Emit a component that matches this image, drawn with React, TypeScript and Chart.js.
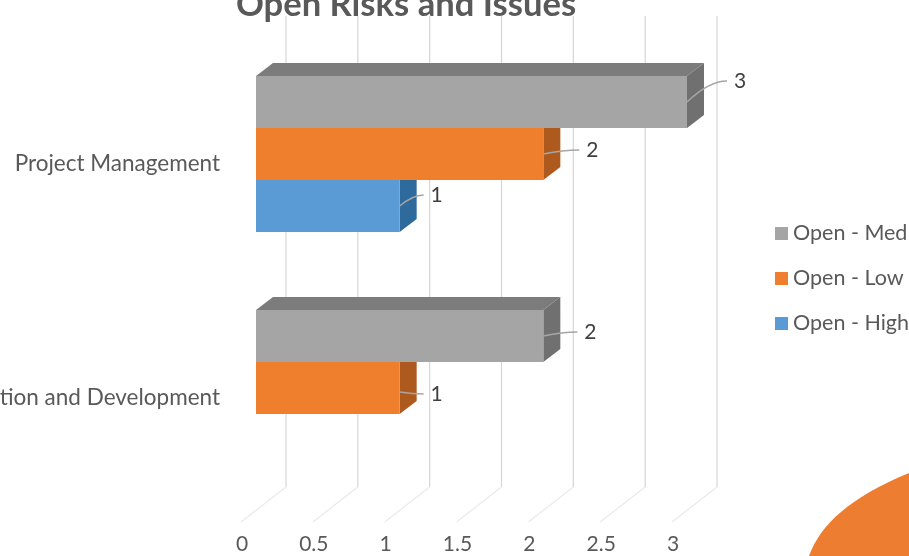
import React, { useEffect, useRef } from "react";
import { Chart, registerables } from "chart.js";

Chart.register(...registerables);

const categories = ["Project Management", "Implementation and Development"];
const openMed = [3, 2];
const openLow = [2, 1];
const openHigh = [1, null];
const seriesNames = ["Open - Med", "Open - Low", "Open - High"];
const titleText = "Open Risks and Issues";
const xMax = 3;
const xStep = 0.5;

const FONT = "Lato, Carlito, Calibri, sans-serif";
const FRONT = ["#A5A5A5", "#EF7F2C", "#5B9BD5"];
const SIDE = ["#707070", "#AE5A1E", "#2F6A9C"];
const TOP = ["#7C7C7C", "#B5601F", "#3A76AB"];
const DEPTH_X = 17;
const DEPTH_Y = 13;
// hand-placed data label offsets from the bar's front-right end: [dx, dy] by series then category
const LABEL_OFFSET = [
  [[53, -21], [47, -4]],
  [[49, -4], [37, 6]],
  [[37, -11], [0, 0]],
];

const depthPlugin = {
  id: "depth",
  beforeDatasetsDraw(chart: any) {
    const { ctx, scales } = chart;
    const x = scales.x;
    const backTop = 16;
    const backBottom = 487;
    ctx.save();
    for (const tick of x.ticks) {
      const px = x.getPixelForValue(tick.value) + 30;
      ctx.strokeStyle = "#D6D6D6";
      ctx.lineWidth = 1.2;
      ctx.beginPath();
      ctx.moveTo(px, backTop);
      ctx.lineTo(px, backBottom);
      ctx.stroke();
      ctx.strokeStyle = "#EAEAEA";
      ctx.beginPath();
      ctx.moveTo(px, backBottom);
      ctx.lineTo(px - 45, backBottom + 35);
      ctx.stroke();
    }
    ctx.restore();
  },
  beforeDatasetDraw(chart: any, args: any) {
    const { ctx } = chart;
    const i = args.index;
    const values = chart.data.datasets[i].data;
    ctx.save();
    args.meta.data.forEach((bar: any, j: number) => {
      if (values[j] == null) return;
      const p = bar.getProps(["x", "y", "base", "height"], true);
      const top = p.y - p.height / 2;
      const bottom = p.y + p.height / 2;
      ctx.fillStyle = TOP[i];
      ctx.beginPath();
      ctx.moveTo(p.base, top);
      ctx.lineTo(p.base + DEPTH_X, top - DEPTH_Y);
      ctx.lineTo(p.x + DEPTH_X, top - DEPTH_Y);
      ctx.lineTo(p.x, top);
      ctx.closePath();
      ctx.fill();
      ctx.fillStyle = SIDE[i];
      ctx.beginPath();
      ctx.moveTo(p.x, top);
      ctx.lineTo(p.x + DEPTH_X, top - DEPTH_Y);
      ctx.lineTo(p.x + DEPTH_X, bottom - DEPTH_Y);
      ctx.lineTo(p.x, bottom);
      ctx.closePath();
      ctx.fill();
    });
    ctx.restore();
  },
  afterDatasetsDraw(chart: any) {
    const { ctx } = chart;
    ctx.save();
    chart.data.datasets.forEach((ds: any, i: number) => {
      chart.getDatasetMeta(i).data.forEach((bar: any, j: number) => {
        const v = ds.data[j];
        if (v == null) return;
        const [dx, dy] = LABEL_OFFSET[i][j];
        const lx = bar.x + dx;
        const ly = bar.y + dy;
        ctx.strokeStyle = "#A6A6A6";
        ctx.lineWidth = 1.5;
        ctx.beginPath();
        ctx.moveTo(bar.x, bar.y + (dy < 0 ? 0 : 4));
        ctx.quadraticCurveTo(bar.x + (dx - 13) * 0.55, ly, lx - 13, ly);
        ctx.stroke();
        ctx.fillStyle = "#404040";
        ctx.font = `21px ${FONT}`;
        ctx.textAlign = "center";
        ctx.textBaseline = "middle";
        ctx.fillText(String(v), lx, ly);
      });
    });
    ctx.restore();
  },
  afterDraw(chart: any) {
    const { ctx } = chart;
    ctx.save();
    // title, cut off by the top edge as in the source
    ctx.fillStyle = "#595959";
    ctx.font = `bold 34.6px ${FONT}`;
    ctx.textAlign = "center";
    ctx.textBaseline = "alphabetic";
    ctx.fillText(titleText, 406, 16);
    // legend
    chart.data.datasets.forEach((ds: any, i: number) => {
      const y = 233 + i * 45;
      ctx.fillStyle = FRONT[i];
      ctx.fillRect(775, y - 6, 13, 13);
      ctx.fillStyle = "#595959";
      ctx.font = `21.5px ${FONT}`;
      ctx.textAlign = "left";
      ctx.textBaseline = "middle";
      ctx.fillText(ds.label, 793, y);
    });
    // slide decoration in the corner
    ctx.fillStyle = "#ED7D31";
    ctx.beginPath();
    ctx.moveTo(809, 556);
    ctx.bezierCurveTo(820, 525, 850, 497, 909, 473);
    ctx.lineTo(909, 556);
    ctx.closePath();
    ctx.fill();
    ctx.restore();
  },
};

export default function App() {
  const ref = useRef<HTMLCanvasElement | null>(null);
  useEffect(() => {
    document.body.style.margin = "0";
    const chart = new Chart(ref.current as HTMLCanvasElement, {
      type: "bar",
      data: {
        labels: categories,
        datasets: [openMed, openLow, openHigh].map((data, i) => ({
          label: seriesNames[i],
          data,
          backgroundColor: FRONT[i],
          barPercentage: 1,
          categoryPercentage: 2 / 3,
        })),
      },
      options: {
        indexAxis: "y",
        animation: false,
        responsive: false,
        layout: { padding: { top: 37, right: 222, bottom: 0, left: 0 } },
        plugins: { legend: { display: false }, title: { display: false }, tooltip: { enabled: false } },
        scales: {
          x: {
            min: 0,
            max: xMax,
            border: { display: false },
            grid: { display: false, drawTicks: false },
            afterFit: (s: any) => { s.height = 51; },
            ticks: {
              stepSize: xStep,
              color: "#595959",
              padding: 27,
              labelOffset: -14,
              maxRotation: 0,
              font: { family: FONT, size: 21 },
              callback: (v: any) => String(v),
            },
          },
          y: {
            border: { display: false },
            grid: { display: false, drawTicks: false },
            afterFit: (s: any) => { s.width = 256; s.paddingTop = 0; s.paddingBottom = 0; },
            ticks: {
              color: "#595959",
              padding: 36,
              labelOffset: 10,
              autoSkip: false,
              font: { family: FONT, size: 22.5 },
            },
          },
        },
      },
      plugins: [depthPlugin],
    } as any);
    return () => chart.destroy();
  }, []);
  return <canvas ref={ref} width={909} height={556} style={{ display: "block", width: 909, height: 556 }} />;
}
